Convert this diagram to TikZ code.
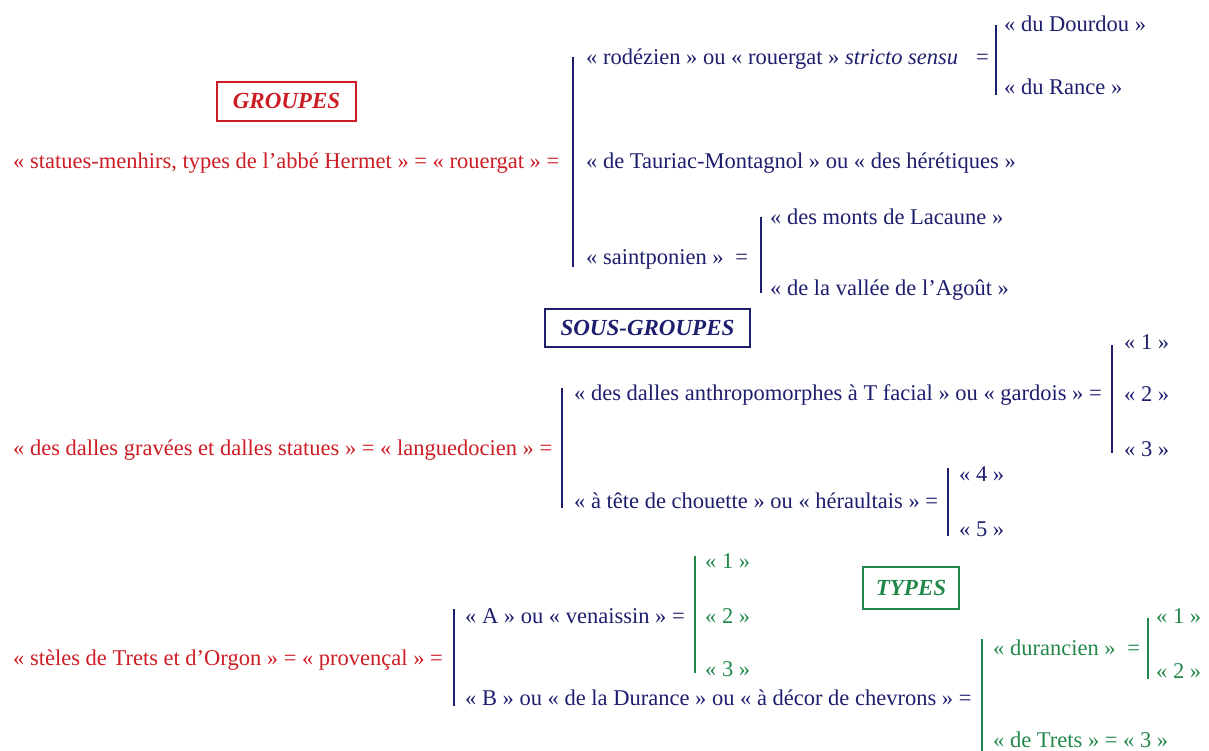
\documentclass[tikz,border=0pt]{standalone}
\usepackage{fontspec}
\setmainfont{Liberation Serif}
\definecolor{rd}{RGB}{204,28,36}
\definecolor{nv}{RGB}{30,30,110}
\definecolor{gn}{RGB}{34,136,74}
\begin{document}
\begin{tikzpicture}[x=1pt,y=-1pt,
  txt/.style={anchor=base west,inner sep=0pt,font=\fontsize{22.5}{26}\selectfont},
  red/.style={txt,text=rd},
  blu/.style={txt,text=nv},
  grn/.style={txt,text=gn},
  title/.style={draw,line width=1.6pt,inner sep=0pt,font=\fontsize{23}{26}\selectfont\bfseries\itshape},
  bar/.style={line width=2.2pt}]
\useasboundingbox (0,0) rectangle (1209,751);
% titles
\node[title,draw=rd,text=rd,minimum width=139,minimum height=39] (tg) at (286.5,101.5) {GROUPES};
\node[title,draw=nv,text=nv,minimum width=205,minimum height=38] (ts) at (647.5,328) {SOUS-GROUPES};
\node[title,draw=gn,text=gn,minimum width=96,minimum height=42] (tt) at (911,588) {TYPES};
% section 1
\node[red] (r1) at (13,169) {«~statues-menhirs, types de l’abbé Hermet~» = «~rouergat~» =};
\node[blu] (a1) at (586,65) {«~rodézien~» ou «~rouergat~» \textit{stricto sensu}\hspace{18pt}=};
\node[blu] (a2) at (586,169) {«~de Tauriac-Montagnol~» ou «~des hérétiques~»};
\node[blu] (a3) at (586,265) {«~saintponien~»\hspace{6pt} =};
\node[blu] (a11) at (1004,32) {«~du Dourdou~»};
\node[blu] (a12) at (1004,95) {«~du Rance~»};
\node[blu] (a31) at (770,225) {«~des monts de Lacaune~»};
\node[blu] (a32) at (770,295) {«~de la vallée de l’Agoût~»};
\coordinate (m1t) at (573,57); \coordinate (m1b) at (573,267);
\coordinate (s1t) at (996,25); \coordinate (s1b) at (996,95);
\coordinate (s3t) at (761,217); \coordinate (s3b) at (761,293);
\draw[bar,nv] (m1t) -- (m1b);
\draw[bar,nv] (s1t) -- (s1b);
\draw[bar,nv] (s3t) -- (s3b);
% section 2
\node[red] (r2) at (13,455) {«~des dalles gravées et dalles statues~» = «~languedocien~» =};
\node[blu] (b1) at (574,400) {«~des dalles anthropomorphes à T facial~» ou «~gardois~» =};
\node[blu] (b2) at (574,508) {«~à tête de chouette~» ou «~héraultais~» =};
\node[blu] (b11) at (1124,349) {«~1~»};
\node[blu] (b12) at (1124,401) {«~2~»};
\node[blu] (b13) at (1124,456) {«~3~»};
\node[blu] (b21) at (959,481) {«~4~»};
\node[blu] (b22) at (959,536) {«~5~»};
\coordinate (m2t) at (562,388); \coordinate (m2b) at (562,508);
\coordinate (s21t) at (1112,345); \coordinate (s21b) at (1112,453);
\coordinate (s22t) at (948,468); \coordinate (s22b) at (948,536);
\draw[bar,nv] (m2t) -- (m2b);
\draw[bar,nv] (s21t) -- (s21b);
\draw[bar,nv] (s22t) -- (s22b);
% section 3
\node[red] (r3) at (13,665) {«~stèles de Trets et d’Orgon~» = «~provençal~» =};
\node[blu] (c1) at (465,623) {«~A~» ou «~venaissin~» =};
\node[blu] (c2) at (465,705) {«~B~» ou «~de la Durance~» ou «~à décor de chevrons~» =};
\node[grn] (c11) at (705,568) {«~1~»};
\node[grn] (c12) at (705,623) {«~2~»};
\node[grn] (c13) at (705,676) {«~3~»};
\node[grn] (c21) at (993,655) {«~durancien~»\hspace{6pt} =};
\node[grn] (c211) at (1156,623) {«~1~»};
\node[grn] (c212) at (1156,678) {«~2~»};
\node[grn] (c22) at (993,747) {«~de Trets~» = «~3~»};
\coordinate (m3t) at (454,609); \coordinate (m3b) at (454,706);
\coordinate (s31t) at (695,556); \coordinate (s31b) at (695,673);
\coordinate (s32t) at (982,639); \coordinate (s32b) at (982,751);
\coordinate (s321t) at (1148,618); \coordinate (s321b) at (1148,679);
\draw[bar,nv] (m3t) -- (m3b);
\draw[bar,gn] (s31t) -- (s31b);
\draw[bar,gn] (s32t) -- (s32b);
\draw[bar,gn] (s321t) -- (s321b);
\end{tikzpicture}
\end{document}
